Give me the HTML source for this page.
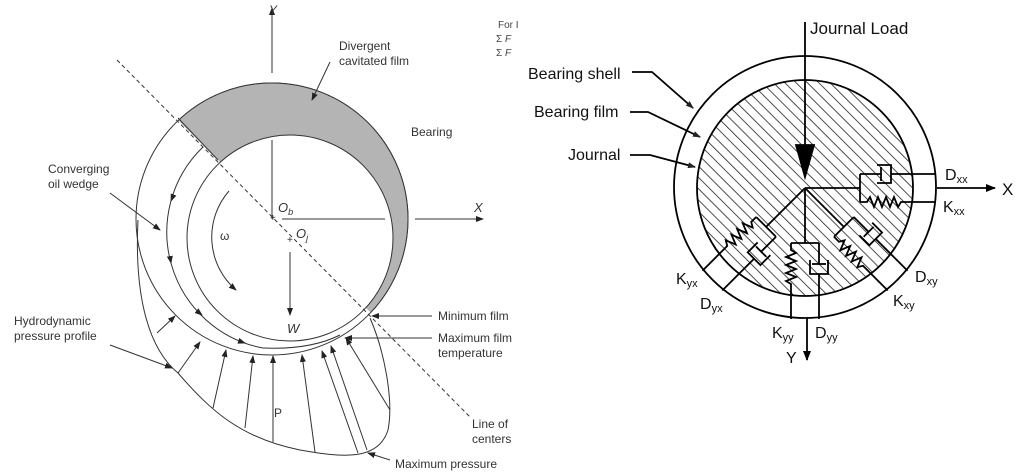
<!DOCTYPE html>
<html><head><meta charset="utf-8"><style>
html,body{margin:0;padding:0;background:#fff;}
svg{display:block;}
text{font-family:"Liberation Sans",Arial,sans-serif;}
</style></head><body>
<svg width="1024" height="474" viewBox="0 0 1024 474" xmlns="http://www.w3.org/2000/svg">
<defs>
<marker id="a" markerWidth="8" markerHeight="8" refX="7" refY="3" orient="auto" markerUnits="userSpaceOnUse"><path d="M0,0 L8,3 L0,6 z" fill="#222"/></marker>
<marker id="b" markerWidth="10" markerHeight="8" refX="9" refY="4" orient="auto" markerUnits="userSpaceOnUse"><path d="M0,0 L10,4 L0,8 z" fill="#000"/></marker>
<clipPath id="cl"><polygon points="100,42 488,430 520,430 520,0 100,0"/></clipPath>
<pattern id="h" width="8" height="8" patternUnits="userSpaceOnUse" patternTransform="rotate(-45)"><line x1="0" y1="0" x2="0" y2="8" stroke="#222" stroke-width="1.6"/></pattern>
<g id="el" fill="none" stroke="#000" stroke-width="1.8">
<line x1="0" y1="0" x2="55" y2="0"/>
<line x1="55" y1="-14" x2="55" y2="14"/>
<line x1="55" y1="-14" x2="76" y2="-14"/>
<line x1="76" y1="-21" x2="76" y2="-7"/>
<path d="M72,-23 L86,-23 L86,-5 L72,-5"/>
<line x1="86" y1="-14" x2="131" y2="-14"/>
<polyline points="55,14 62,14 65,9 69,19 73,9 77,19 81,9 85,19 89,9 93,19 96,14 131,14"/>
</g>
</defs>

<!-- LEFT DIAGRAM -->
<g stroke="#333" stroke-width="1" fill="none">
<circle cx="272" cy="219" r="136" fill="#fff"/>
<circle cx="272" cy="219" r="136" fill="#b4b4b4" clip-path="url(#cl)"/>
<circle cx="290" cy="238" r="103" fill="#fff"/>
<line x1="178" y1="118" x2="218" y2="160"/>
<line x1="117" y1="60" x2="470" y2="417" stroke-dasharray="4,3"/>
<line x1="272" y1="73" x2="272" y2="8" marker-end="url(#a)"/>
<line x1="272" y1="140" x2="272" y2="219"/>
<line x1="282" y1="219" x2="385" y2="219"/>
<line x1="415" y1="219" x2="483" y2="219" marker-end="url(#a)"/>
<line x1="290" y1="252" x2="290" y2="315" marker-end="url(#a)"/>
<path d="M203,147 A118,118 0 0 0 263,348"/>
<path d="M229,191 A70,70 0 0 0 236,290" marker-end="url(#a)"/>
<line x1="173" y1="196" x2="171" y2="201" marker-end="url(#a)"/>
<line x1="170" y1="257" x2="171" y2="263" marker-end="url(#a)"/>
<line x1="197" y1="311" x2="202" y2="315" marker-end="url(#a)"/>
<line x1="239" y1="341" x2="245" y2="343" marker-end="url(#a)"/>
<path d="M263,348 Q310,350 340,335"/>
<path d="M138,220 C134,300 150,350 178,373 C210,410 240,438 300,450 C340,457 378,462 388,430 C394,400 384,350 370,318"/>
<line x1="157" y1="333" x2="175" y2="316" marker-end="url(#a)"/>
<line x1="178" y1="373" x2="200" y2="342" marker-end="url(#a)"/>
<line x1="213" y1="408" x2="226" y2="350" marker-end="url(#a)"/>
<line x1="245" y1="428" x2="253" y2="356" marker-end="url(#a)"/>
<line x1="273" y1="442" x2="273" y2="356" marker-end="url(#a)"/>
<line x1="315" y1="452" x2="302" y2="355" marker-end="url(#a)"/>
<line x1="358" y1="453" x2="322" y2="351" marker-end="url(#a)"/>
<line x1="367" y1="450" x2="331" y2="346" marker-end="url(#a)"/>
<line x1="390" y1="410" x2="346" y2="338" marker-end="url(#a)"/>
<line x1="330" y1="62" x2="312" y2="100" marker-end="url(#a)"/>
<line x1="110" y1="193" x2="160" y2="230" marker-end="url(#a)"/>
<line x1="110" y1="345" x2="172" y2="368" marker-end="url(#a)"/>
<line x1="432" y1="316" x2="372" y2="316" marker-end="url(#a)"/>
<line x1="432" y1="338" x2="345" y2="338" marker-end="url(#a)"/>
<line x1="390" y1="460" x2="368" y2="453" marker-end="url(#a)"/>
</g>
<g fill="#333" font-size="12">
<text x="269" y="14" font-style="italic">Y</text>
<text x="339" y="50">Divergent</text>
<text x="339" y="65">cavitated film</text>
<text x="411" y="136">Bearing</text>
<text x="48" y="173">Converging</text>
<text x="48" y="188">oil wedge</text>
<text x="220" y="240" font-family="Liberation Serif">ω</text>
<text x="278" y="212" font-style="italic" font-size="13">O<tspan font-size="9" dy="3">b</tspan></text>
<text x="296" y="238" font-style="italic" font-size="13">O<tspan font-size="9" dy="3">j</tspan></text>
<text x="270" y="221" font-size="10">+</text>
<text x="287" y="243" font-size="10">+</text>
<text x="474" y="212" font-style="italic" font-size="13">X</text>
<text x="287" y="333" font-style="italic" font-size="13">W</text>
<text x="14" y="325">Hydrodynamic</text>
<text x="14" y="340">pressure profile</text>
<text x="438" y="320">Minimum film</text>
<text x="438" y="342">Maximum film</text>
<text x="438" y="357">temperature</text>
<text x="274" y="417">P</text>
<text x="472" y="428">Line of</text>
<text x="472" y="443">centers</text>
<text x="395" y="468">Maximum pressure</text>
</g>
<g fill="#444" font-size="10" font-family="Liberation Serif">
<text x="498" y="28">For I</text>
<text x="496" y="42">Σ <tspan font-style="italic">F</tspan></text>
<text x="496" y="56">Σ <tspan font-style="italic">F</tspan></text>
</g>

<!-- RIGHT DIAGRAM -->
<g fill="none" stroke="#000" stroke-width="1.8">
<circle cx="805" cy="187" r="131"/>
<circle cx="805" cy="188" r="108" fill="url(#h)"/>
<line x1="805" y1="22" x2="805" y2="150"/>
<polygon points="796,145 814,145 805,177" fill="#000"/>
<use href="#el" transform="translate(805,188)"/>
<use href="#el" transform="translate(805,188) rotate(45)"/>
<use href="#el" transform="translate(805,188) rotate(90)"/>
<use href="#el" transform="translate(805,188) rotate(135)"/>
<line x1="937" y1="188" x2="995" y2="188" marker-end="url(#b)"/>
<line x1="807" y1="318" x2="807" y2="360" marker-end="url(#b)"/>
<polyline points="632,72 652,72 693,108" marker-end="url(#a)"/>
<polyline points="630,112 648,112 700,137" marker-end="url(#a)"/>
<polyline points="630,155 650,155 695,167" marker-end="url(#a)"/>
</g>
<g fill="#111" font-size="16">
<text x="810" y="34" font-size="17">Journal Load</text>
<text x="528" y="79">Bearing shell</text>
<text x="534" y="117">Bearing film</text>
<text x="568" y="160">Journal</text>
<text x="1002" y="195" font-size="17">X</text>
<text x="945" y="180">D<tspan font-size="11" dy="3">xx</tspan></text>
<text x="943" y="212">K<tspan font-size="11" dy="3">xx</tspan></text>
<text x="915" y="282">D<tspan font-size="11" dy="3">xy</tspan></text>
<text x="893" y="306">K<tspan font-size="11" dy="3">xy</tspan></text>
<text x="676" y="284">K<tspan font-size="11" dy="3">yx</tspan></text>
<text x="700" y="309">D<tspan font-size="11" dy="3">yx</tspan></text>
<text x="772" y="338">K<tspan font-size="11" dy="3">yy</tspan></text>
<text x="815" y="338">D<tspan font-size="11" dy="3">yy</tspan></text>
<text x="786" y="363">Y</text>
</g>
</svg>
</body></html>
